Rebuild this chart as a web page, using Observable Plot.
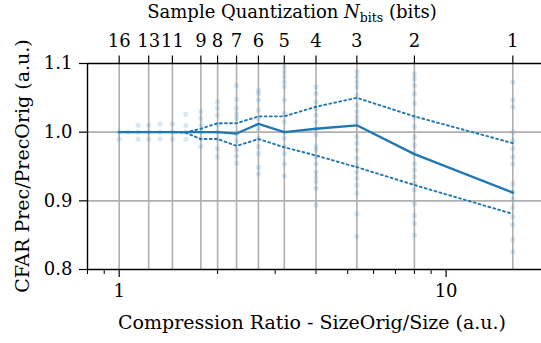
<!DOCTYPE html>
<html>
<head>
<meta charset="utf-8">
<script src="https://cdn.jsdelivr.net/npm/d3@7"></script>
<script src="https://cdn.jsdelivr.net/npm/@observablehq/plot@0.6"></script>
<style>
  html, body { margin: 0; padding: 0; background: white; overflow: hidden; }
  #wrap { position: relative; width: 541px; height: 343px; }
  #titles { position: absolute; left: 0; top: 0; pointer-events: none; }
</style>
</head>
<body>
<div id="wrap">
<div id="chart"></div>
<svg id="titles" width="541" height="343">
<text x="292" y="18" text-anchor="middle" style="font-family:'DejaVu Serif';font-size:18px">Sample Quantization <tspan style="font-style:italic">N</tspan><tspan dy="4" style="font-size:12.5px">bits</tspan><tspan dy="-4"> (bits)</tspan></text>
<text x="312" y="329" text-anchor="middle" style="font-family:'DejaVu Serif';font-size:19px">Compression Ratio - SizeOrig/Size (a.u.)</text>
<text transform="translate(29,166) rotate(-90)" text-anchor="middle" style="font-family:'DejaVu Serif';font-size:19px">CFAR Prec/PrecOrig (a.u.)</text>
</svg>
</div>
<script>
// Quantization bits (all evaluated) and compression ratio = 16 / N
const bits = [16, 15, 14, 13, 12, 11, 10, 9, 8, 7, 6, 5, 4, 3, 2, 1];
// Bits shown as ticks on the top axis
const tickBits = [16, 13, 11, 9, 8, 7, 6, 5, 4, 3, 2, 1];
// Central line (solid) and spread (dotted) values
const meanVals  = [1.000, 1.000, 1.000, 1.000, 1.000, 1.000, 1.000, 1.000, 1.000, 0.998, 1.012, 1.000, 1.005, 1.010, 0.968, 0.912];
const upperVals = [1.000, 1.000, 1.000, 1.000, 1.000, 1.000, 1.000, 1.005, 1.013, 1.013, 1.023, 1.023, 1.037, 1.050, 1.023, 0.984];
const lowerVals = [1.000, 1.000, 1.000, 1.000, 1.000, 1.000, 0.999, 0.990, 0.990, 0.980, 0.990, 0.978, 0.966, 0.949, 0.923, 0.881];
// Individual samples per bit depth
const s16 = [1.000, 0.990];
const s15 = [1.000];
const s14 = [1.010, 1.000, 0.990];
const s13 = [1.010, 1.000, 0.990];
const s12 = [1.012, 1.000, 0.990];
const s11 = [1.012, 1.000, 0.990];
const s10 = [1.026, 1.010, 1.000, 0.990];
const s9  = [1.030, 1.020, 1.010, 1.000, 0.990, 0.979];
const s8  = [1.044, 1.035, 1.025, 1.011, 1.000, 0.990, 0.976, 0.964];
const s7  = [1.068, 1.048, 1.035, 1.027, 1.020, 0.998, 0.987, 0.974, 0.965, 0.955];
const s6  = [1.061, 1.056, 1.047, 1.032, 1.020, 1.005, 0.991, 0.979, 0.969, 0.949, 0.939];
const s5  = [1.095, 1.088, 1.081, 1.073, 1.066, 1.047, 1.027, 1.015, 1.000, 0.991, 0.979, 0.969, 0.954, 0.936];
const s4  = [1.066, 1.056, 1.044, 1.034, 1.025, 1.015, 1.005, 0.996, 0.979, 0.974, 0.964, 0.954, 0.942, 0.935, 0.928, 0.918, 0.894];
const s3  = [1.088, 1.081, 1.073, 1.066, 1.054, 1.039, 1.030, 1.022, 1.015, 0.993, 0.984, 0.974, 0.962, 0.952, 0.942, 0.933, 0.923, 0.911, 0.881, 0.848];
const s2  = [1.085, 1.078, 1.068, 1.056, 1.042, 1.022, 1.008, 0.993, 0.981, 0.969, 0.954, 0.945, 0.935, 0.925, 0.916, 0.896, 0.879, 0.867, 0.850];
const s1  = [1.073, 1.047, 1.037, 1.000, 0.988, 0.976, 0.964, 0.954, 0.925, 0.913, 0.903, 0.891, 0.877, 0.865, 0.843, 0.826];
const sampleSets = [s16, s15, s14, s13, s12, s11, s10, s9, s8, s7, s6, s5, s4, s3, s2, s1];
// Axis ticks
const yTicks = [0.8, 0.9, 1.0, 1.1];
const xMajor = [1, 10];
const xMinor = [0.8, 0.9, 2, 3, 4, 5, 6, 7, 8, 9];

const ratio = n => 16 / n;
const lineData = bits.map((n, i) => ({r: ratio(n), mean: meanVals[i], up: upperVals[i], lo: lowerVals[i]}));
const samples = bits.flatMap((n, i) => sampleSets[i].map(v => ({r: ratio(n), v})));
const topTicks = tickBits.map(n => ({r: ratio(n), label: String(n)}));
const tickRatios = topTicks.map(d => d.r);

const blue = "#1f77b4";
const grid = "#b0b0b0";
const serif = "DejaVu Serif";
// y-units per pixel (0.3 over a 206 px tall frame), used for tick lengths
const yPerPx = 0.3 / 206;
const yMin = 0.8, yMax = 1.1;

const plot = Plot.plot({
  width: 541,
  height: 343,
  marginLeft: 87,
  marginRight: 0,
  marginTop: 63,
  marginBottom: 74,
  x: {type: "log", domain: [0.8, 20], range: [87, 544]},
  y: {domain: [yMin, yMax]},
  style: {fontFamily: serif, fontSize: "18px", color: "black", background: "white"},
  marks: [
    Plot.ruleY([0.9, 1.0], {stroke: grid, strokeWidth: 1.6}),
    Plot.ruleX(tickRatios, {y1: yMin, y2: yMax, stroke: grid, strokeWidth: 1.6}),
    Plot.dot(samples, {x: "r", y: "v", r: 2.6, fill: blue, fillOpacity: 0.17, stroke: "none"}),
    Plot.line(lineData, {x: "r", y: "up", stroke: blue, strokeWidth: 1.9, strokeDasharray: "1.9,3.2"}),
    Plot.line(lineData, {x: "r", y: "lo", stroke: blue, strokeWidth: 1.9, strokeDasharray: "1.9,3.2"}),
    Plot.line(lineData, {x: "r", y: "mean", stroke: blue, strokeWidth: 2.3}),
    Plot.ruleY([yMin, yMax], {stroke: "black", strokeWidth: 1.4}),
    Plot.ruleX([0.8], {y1: yMin, y2: yMax, stroke: "black", strokeWidth: 1.4}),
    Plot.axisY({ticks: yTicks, tickFormat: d3.format(".1f"), tickSize: 8, tickPadding: 7, label: null, strokeWidth: 1.2, fontFamily: serif}),
    Plot.axisX({anchor: "bottom", ticks: xMajor, tickFormat: d => String(d), tickSize: 8, tickPadding: 7, label: null, strokeWidth: 1.2, fontFamily: serif}),
    Plot.link(xMinor, {x1: d => d, x2: d => d, y1: yMin, y2: yMin - 4.5 * yPerPx, stroke: "black", strokeWidth: 1}),
    Plot.link(topTicks, {x1: "r", x2: "r", y1: yMax, y2: yMax + 8 * yPerPx, stroke: "black", strokeWidth: 1.2}),
    Plot.text(topTicks, {x: "r", y: yMax, text: "label", dy: -22, fontSize: 18, fill: "black", fontFamily: serif})
  ]
});

// Insert the chart as parsed markup so its text resolves fonts like static SVG
const chart = document.getElementById("chart");
chart.innerHTML = plot.outerHTML.replace(/system-ui, sans-serif/g, "'DejaVu Serif'");
chart.querySelectorAll("text").forEach(t => t.style.fontFamily = "'DejaVu Serif'");
</script>
</body>
</html>
